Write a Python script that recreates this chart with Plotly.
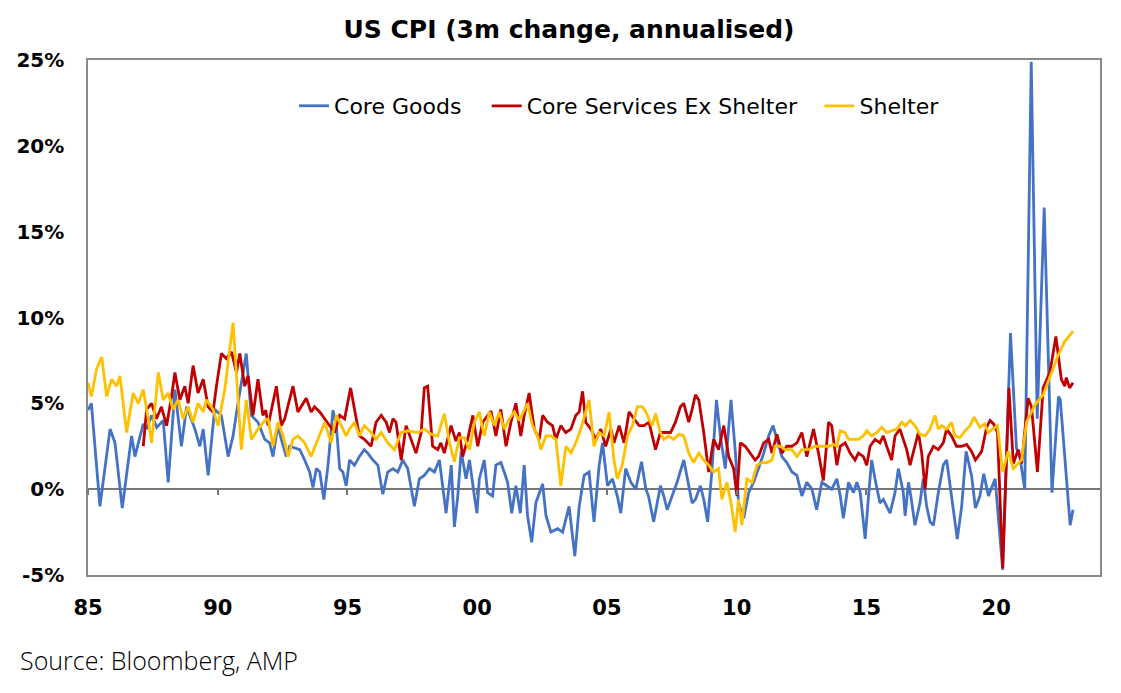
import plotly.graph_objects as go

# (decimal year, % 3m change annualised)
core_goods = [
    (1985.0, 4.6), (1985.13, 5.0), (1985.46, -1.0), (1985.85, 3.5), (1986.04, 2.7), (1986.32, -1.1),
    (1986.68, 3.1), (1986.81, 1.9), (1986.94, 2.7), (1987.13, 3.8), (1987.26, 3.5), (1987.45, 4.3),
    (1987.65, 3.6), (1987.9, 4.0), (1988.09, 0.4), (1988.35, 5.8), (1988.6, 2.5), (1988.8, 4.8),
    (1989.12, 3.5), (1989.31, 2.5), (1989.44, 3.5), (1989.63, 0.8), (1989.88, 4.65), (1990.14, 4.3),
    (1990.4, 1.9), (1990.59, 3.1), (1990.78, 5.0), (1991.1, 7.9), (1991.29, 4.3), (1991.55, 3.9),
    (1991.81, 2.9), (1992.0, 2.7), (1992.13, 1.9), (1992.32, 3.7), (1992.45, 2.9), (1992.64, 1.9),
    (1992.77, 2.5), (1992.96, 2.4), (1993.16, 2.3), (1993.35, 1.7), (1993.54, 1.0), (1993.67, 0.1),
    (1993.8, 1.2), (1993.93, 1.0), (1994.09, -0.6), (1994.25, 1.4), (1994.44, 4.6), (1994.57, 3.7),
    (1994.7, 1.2), (1994.82, 1.0), (1994.95, 0.2), (1995.08, 1.7), (1995.27, 1.4), (1995.46, 1.9),
    (1995.65, 2.3), (1995.78, 2.1), (1995.98, 1.7), (1996.17, 1.4), (1996.36, -0.3), (1996.55, 1.0),
    (1996.75, 1.2), (1996.94, 1.0), (1997.13, 1.7), (1997.32, 1.2), (1997.58, -1.0), (1997.77, 0.6),
    (1997.96, 0.8), (1998.16, 1.2), (1998.35, 1.0), (1998.54, 1.7), (1998.8, -1.4), (1999.0, 1.4),
    (1999.12, -2.2), (1999.25, -0.4), (1999.38, 2.2), (1999.57, 0.6), (1999.7, 1.7), (1999.89, -0.4),
    (1999.99, -1.4), (2000.08, 0.6), (2000.27, 1.7), (2000.4, -0.2), (2000.59, -0.4), (2000.72, 1.4),
    (2000.91, 1.55), (2001.04, 1.0), (2001.17, 0.4), (2001.33, -1.4), (2001.49, 0.2), (2001.66, -1.4),
    (2001.81, 1.4), (2001.94, -1.55), (2002.1, -3.1), (2002.26, -0.8), (2002.52, 0.3), (2002.65, -1.55),
    (2002.84, -2.5), (2003.1, -2.3), (2003.29, -2.5), (2003.54, -1.0), (2003.76, -3.9), (2003.93, -1.0),
    (2004.12, 0.8), (2004.31, 1.0), (2004.5, -1.9), (2004.7, 1.4), (2004.83, 2.7), (2005.02, 0.2),
    (2005.21, 0.6), (2005.4, -0.4), (2005.53, -1.4), (2005.72, 1.2), (2005.92, 0.4), (2006.11, 0.0),
    (2006.33, 1.6), (2006.5, 0.0), (2006.6, -0.4), (2006.8, -1.9), (2007.06, 0.2), (2007.19, -0.4),
    (2007.32, -1.2), (2007.51, -0.4), (2007.7, 0.4), (2007.96, 1.7), (2008.09, 0.6), (2008.28, -0.8),
    (2008.41, -0.6), (2008.6, 0.2), (2008.73, -0.6), (2008.88, -1.9), (2009.05, 1.2), (2009.22, 5.2),
    (2009.37, 3.1), (2009.56, 1.2), (2009.78, 5.2), (2009.95, 2.1), (2010.07, -0.8), (2010.27, -1.7),
    (2010.46, -0.2), (2010.65, 0.4), (2010.84, 1.2), (2011.04, 2.1), (2011.23, 3.1), (2011.4, 3.7),
    (2011.55, 2.9), (2011.74, 1.9), (2011.93, 1.55), (2012.13, 1.0), (2012.32, 0.8), (2012.51, -0.4),
    (2012.7, 0.4), (2012.9, 0.0), (2013.08, -1.2), (2013.28, 0.4), (2013.47, 0.2), (2013.66, 0.0),
    (2013.86, 0.6), (2013.99, -0.4), (2014.11, -1.7), (2014.31, 0.4), (2014.5, -0.2), (2014.63, 0.4),
    (2014.76, -0.2), (2014.95, -2.9), (2015.08, -0.4), (2015.2, 1.7), (2015.33, 0.6), (2015.52, -0.8),
    (2015.65, -0.6), (2015.78, -1.0), (2015.91, -1.4), (2016.1, -0.2), (2016.23, 1.2), (2016.42, -0.2),
    (2016.49, -1.55), (2016.62, 0.4), (2016.71, -0.4), (2016.87, -2.1), (2017.06, -0.8), (2017.19, 0.6),
    (2017.32, -1.0), (2017.45, -1.9), (2017.58, -2.1), (2017.77, -0.2), (2017.96, 1.4), (2018.09, 1.7),
    (2018.24, 0.0), (2018.37, -1.7), (2018.5, -2.9), (2018.67, -1.0), (2018.84, 2.2), (2019.05, 0.8),
    (2019.2, -1.1), (2019.37, -0.4), (2019.52, 0.9), (2019.7, -0.4), (2019.96, 0.6), (2020.25, -4.7),
    (2020.55, 9.1), (2020.78, 2.4), (2020.92, 1.8), (2021.1, 0.0), (2021.35, 24.9), (2021.58, 4.1),
    (2021.85, 16.4), (2022.15, -0.2), (2022.4, 5.4), (2022.47, 5.2), (2022.85, -2.1), (2022.96, -1.2),
]

core_services_ex_shelter = [
    (1987.13, 2.5), (1987.26, 4.65), (1987.45, 5.0), (1987.64, 4.1), (1987.83, 4.8), (1988.03, 3.7),
    (1988.22, 5.4), (1988.35, 6.8), (1988.54, 5.2), (1988.73, 6.0), (1988.86, 5.0), (1989.05, 7.2),
    (1989.24, 5.6), (1989.44, 6.4), (1989.63, 4.8), (1989.82, 4.5), (1989.95, 6.0), (1990.14, 7.9),
    (1990.33, 7.6), (1990.53, 8.0), (1990.72, 6.8), (1990.85, 7.9), (1991.04, 6.0), (1991.17, 6.6),
    (1991.36, 4.3), (1991.55, 6.4), (1991.74, 4.3), (1991.85, 4.6), (1991.94, 3.7), (1992.26, 6.0),
    (1992.45, 3.7), (1992.58, 4.1), (1992.9, 6.0), (1993.09, 4.5), (1993.41, 5.3), (1993.6, 4.5),
    (1993.73, 4.8), (1993.93, 4.5), (1994.12, 4.1), (1994.31, 3.7), (1994.5, 3.3), (1994.7, 4.3),
    (1994.89, 4.1), (1995.12, 5.9), (1995.27, 4.65), (1995.46, 3.1), (1995.65, 2.9), (1995.91, 2.5),
    (1996.1, 3.9), (1996.3, 4.3), (1996.49, 3.9), (1996.62, 3.3), (1996.75, 4.1), (1996.87, 3.9),
    (1997.07, 1.7), (1997.26, 3.7), (1997.45, 2.9), (1997.64, 2.1), (1997.84, 3.3), (1997.96, 5.9),
    (1998.09, 6.0), (1998.28, 2.5), (1998.48, 2.3), (1998.6, 2.7), (1998.73, 2.1), (1998.99, 3.7),
    (1999.18, 2.8), (1999.31, 3.3), (1999.44, 1.9), (1999.63, 2.9), (1999.83, 4.3), (2000.02, 2.5),
    (2000.21, 3.9), (2000.4, 4.3), (2000.53, 4.55), (2000.72, 3.1), (2000.91, 4.65), (2001.11, 2.5),
    (2001.3, 3.9), (2001.49, 5.0), (2001.68, 3.1), (2001.81, 4.3), (2002.0, 5.6), (2002.2, 3.5),
    (2002.39, 2.9), (2002.52, 4.3), (2002.71, 3.9), (2002.9, 3.7), (2003.03, 2.9), (2003.22, 3.7),
    (2003.41, 3.3), (2003.61, 3.5), (2003.8, 4.3), (2003.93, 4.5), (2004.06, 5.7), (2004.18, 3.9),
    (2004.38, 3.5), (2004.57, 2.9), (2004.76, 3.5), (2004.95, 2.5), (2005.15, 3.5), (2005.27, 2.7),
    (2005.47, 3.7), (2005.66, 2.7), (2005.85, 4.5), (2006.04, 4.1), (2006.24, 3.7), (2006.43, 3.7),
    (2006.62, 3.9), (2006.87, 2.3), (2007.06, 3.3), (2007.25, 3.3), (2007.45, 3.3), (2007.64, 3.9),
    (2007.83, 4.8), (2007.96, 5.0), (2008.15, 3.9), (2008.28, 4.65), (2008.41, 5.5), (2008.54, 5.2),
    (2008.73, 3.3), (2008.92, 1.0), (2009.11, 2.9), (2009.3, 2.3), (2009.5, 3.7), (2009.69, 1.9),
    (2009.88, 1.2), (2010.01, -0.4), (2010.14, 2.7), (2010.33, 2.5), (2010.52, 2.1), (2010.71, 1.7),
    (2010.84, 1.9), (2011.04, 2.7), (2011.23, 2.9), (2011.36, 2.1), (2011.55, 3.2), (2011.74, 2.1),
    (2011.93, 2.5), (2012.13, 2.5), (2012.32, 2.7), (2012.51, 3.3), (2012.7, 1.9), (2012.96, 3.5),
    (2013.15, 2.1), (2013.34, 0.5), (2013.54, 3.9), (2013.66, 3.7), (2013.86, 1.4), (2013.99, 2.5),
    (2014.18, 2.7), (2014.37, 2.1), (2014.56, 1.7), (2014.69, 2.1), (2014.88, 1.9), (2015.01, 1.4),
    (2015.14, 2.5), (2015.33, 2.9), (2015.52, 2.7), (2015.65, 3.1), (2015.78, 2.5), (2015.97, 1.7),
    (2016.1, 3.1), (2016.29, 3.5), (2016.42, 2.9), (2016.55, 2.3), (2016.68, 1.4), (2016.87, 2.5),
    (2017.0, 3.3), (2017.13, 2.1), (2017.26, 0.0), (2017.38, 1.9), (2017.58, 2.5), (2017.77, 2.3),
    (2017.96, 2.7), (2018.09, 3.5), (2018.28, 3.1), (2018.47, 2.5), (2018.67, 2.5), (2018.86, 2.6),
    (2019.05, 2.2), (2019.2, 1.7), (2019.44, 2.2), (2019.63, 3.6), (2019.76, 4.0), (2019.9, 3.8),
    (2020.05, 3.3), (2020.25, -4.6), (2020.49, 5.9), (2020.66, 1.5), (2020.85, 2.3), (2020.98, 1.5),
    (2021.23, 5.3), (2021.36, 4.8), (2021.59, 1.0), (2021.81, 5.9), (2022.07, 6.8), (2022.3, 8.9),
    (2022.51, 6.4), (2022.64, 6.0), (2022.7, 6.5), (2022.83, 5.9), (2022.96, 6.2),
]

shelter = [
    (1985.0, 6.2), (1985.13, 5.4), (1985.33, 7.0), (1985.53, 7.7), (1985.72, 5.4), (1985.91, 6.4),
    (1986.1, 6.0), (1986.23, 6.6), (1986.49, 3.3), (1986.74, 5.6), (1986.94, 5.0), (1987.13, 5.8),
    (1987.32, 4.1), (1987.45, 2.7), (1987.71, 6.8), (1987.9, 5.2), (1988.09, 5.6), (1988.28, 4.65),
    (1988.47, 5.2), (1988.67, 4.1), (1988.86, 4.8), (1989.05, 3.9), (1989.24, 5.0), (1989.44, 4.5),
    (1989.56, 5.2), (1989.82, 4.65), (1990.01, 3.7), (1990.27, 5.8), (1990.59, 9.7), (1990.78, 5.4),
    (1990.91, 2.3), (1991.1, 5.2), (1991.3, 2.9), (1991.55, 3.5), (1991.81, 4.0), (1991.94, 4.1),
    (1992.13, 2.5), (1992.32, 3.9), (1992.52, 3.1), (1992.71, 1.9), (1992.9, 2.9), (1993.09, 3.1),
    (1993.35, 2.7), (1993.6, 1.9), (1993.86, 2.9), (1994.12, 3.9), (1994.37, 2.7), (1994.57, 4.3),
    (1994.76, 3.7), (1994.95, 3.1), (1995.08, 3.5), (1995.27, 3.9), (1995.46, 3.1), (1995.65, 3.7),
    (1995.91, 3.3), (1996.1, 2.9), (1996.3, 3.3), (1996.55, 2.7), (1996.81, 2.3), (1997.07, 3.3),
    (1997.32, 3.4), (1997.71, 3.3), (1997.96, 3.5), (1998.22, 3.2), (1998.48, 3.1), (1998.73, 4.4),
    (1998.93, 2.7), (1999.12, 1.6), (1999.31, 3.0), (1999.5, 3.0), (1999.7, 2.3), (1999.89, 3.9),
    (2000.08, 4.5), (2000.27, 3.1), (2000.47, 4.5), (2000.66, 3.7), (2000.85, 4.5), (2001.04, 3.5),
    (2001.24, 4.1), (2001.43, 4.5), (2001.62, 4.0), (2001.81, 4.65), (2001.94, 5.0), (2002.13, 3.7),
    (2002.33, 3.1), (2002.45, 2.3), (2002.65, 3.1), (2002.84, 3.1), (2003.03, 2.9), (2003.22, 0.2),
    (2003.42, 2.5), (2003.61, 2.1), (2003.8, 2.7), (2003.99, 3.5), (2004.18, 4.5), (2004.31, 5.2),
    (2004.5, 2.5), (2004.7, 3.3), (2004.89, 3.1), (2005.08, 4.5), (2005.27, 1.7), (2005.4, 0.6),
    (2005.59, 1.4), (2005.79, 3.1), (2005.98, 3.7), (2006.17, 4.8), (2006.36, 4.8), (2006.5, 4.5),
    (2006.61, 4.1), (2006.74, 3.7), (2006.87, 4.4), (2007.06, 3.3), (2007.19, 2.9), (2007.38, 3.1),
    (2007.57, 2.9), (2007.77, 3.2), (2007.96, 3.1), (2008.15, 2.1), (2008.34, 1.55), (2008.54, 2.1),
    (2008.73, 1.7), (2008.92, 1.4), (2009.11, 1.0), (2009.3, 1.2), (2009.43, -0.6), (2009.62, 0.4),
    (2009.78, -0.8), (2009.94, -2.5), (2010.07, -0.6), (2010.2, -2.1), (2010.39, 0.6), (2010.59, 0.4),
    (2010.78, 1.4), (2010.97, 1.55), (2011.16, 1.55), (2011.36, 1.7), (2011.48, 2.5), (2011.68, 2.5),
    (2011.87, 2.3), (2012.13, 2.3), (2012.32, 1.9), (2012.51, 2.3), (2012.77, 2.3), (2013.02, 2.5),
    (2013.28, 2.5), (2013.54, 2.5), (2013.73, 2.6), (2013.86, 2.5), (2013.99, 3.4), (2014.18, 3.3),
    (2014.31, 2.9), (2014.5, 2.9), (2014.69, 2.9), (2014.88, 3.1), (2015.01, 3.4), (2015.2, 3.1),
    (2015.4, 3.3), (2015.59, 3.6), (2015.78, 3.3), (2015.97, 3.4), (2016.17, 3.5), (2016.36, 3.9),
    (2016.49, 3.7), (2016.68, 4.0), (2016.87, 3.7), (2017.06, 3.2), (2017.26, 3.1), (2017.45, 3.5),
    (2017.64, 4.3), (2017.77, 3.5), (2017.9, 3.7), (2018.09, 3.5), (2018.28, 3.9), (2018.41, 3.1),
    (2018.6, 3.0), (2018.8, 3.4), (2018.99, 3.7), (2019.15, 4.2), (2019.37, 3.6), (2019.55, 3.8),
    (2019.7, 3.3), (2019.85, 3.5), (2020.05, 3.7), (2020.25, 1.0), (2020.46, 2.2), (2020.66, 1.2),
    (2020.98, 1.7), (2021.17, 3.9), (2021.49, 4.9), (2021.81, 5.5), (2022.13, 6.8), (2022.39, 7.8),
    (2022.64, 8.6), (2022.96, 9.2),
]

tick_years = [1985, 1990, 1995, 2000, 2005, 2010, 2015, 2020]
tick_labels = ['85', '90', '95', '00', '05', '10', '15', '20']
y_ticks = [-5, 0, 5, 10, 15, 20, 25]
y_labels = ['-5%', '0%', '5%', '10%', '15%', '20%', '25%']

FONT = 'DejaVu Sans'

# the page puts the figure 8px in from the top-left corner
W, H = 1105, 677

fig = go.Figure()

series = [
    ('Core Goods', core_goods, '#4472C4', 'legend'),
    ('Core Services Ex Shelter', core_services_ex_shelter, '#C00000', 'legend2'),
    ('Shelter', shelter, '#FFC000', 'legend3'),
]
for name, pts, colour, leg in series:
    fig.add_trace(go.Scatter(
        x=[p[0] for p in pts], y=[p[1] for p in pts], name=name, mode='lines',
        line=dict(color=colour, width=2.8), legend=leg, showlegend=True))

# tick marks sitting on the zero line
fig.add_trace(go.Scatter(x=[], y=[], xaxis='x2', showlegend=False, hoverinfo='skip'))

legend_font = dict(family=FONT, size=22, color='black')
leg_common = dict(orientation='h', yanchor='middle', y=0.9107, xanchor='left',
                  bgcolor='rgba(0,0,0,0)', borderwidth=0, font=legend_font)

fig.update_layout(
    width=W, height=H,
    margin=dict(l=80, r=13, t=52, b=110, autoexpand=False),
    paper_bgcolor='white', plot_bgcolor='white',
    showlegend=True,
    title=dict(text='<b>US CPI (3m change, annualised)</b>', x=(569 - 8) / W, xref='container',
               xanchor='center', y=1 - 21 / H, yref='container', yanchor='middle',
               font=dict(family=FONT, size=25, color='black')),
    legend=dict(x=0.2036, **leg_common),
    legend2=dict(x=0.394, **leg_common),
    legend3=dict(x=0.7228, **leg_common),
    xaxis=dict(range=[1985, 2024], tickvals=tick_years, ticktext=tick_labels, automargin=False,
               showline=True, mirror=True, linecolor='#8a8a8a', linewidth=1.5,
               showgrid=False, zeroline=False, ticks='', ticklabelstandoff=13,
               tickfont=dict(family=FONT, size=21, color='black', weight='bold')),
    xaxis2=dict(overlaying='x', matches='x', anchor='free', position=1 / 6, side='bottom',
                automargin=False, tickvals=tick_years, ticks='outside', ticklen=5, tickwidth=1.5,
                tickcolor='#777777', showticklabels=False, showline=False, showgrid=False,
                zeroline=False),
    yaxis=dict(range=[-5, 25], tickvals=y_ticks, ticktext=y_labels, automargin=False,
               showline=True, mirror=True, linecolor='#8a8a8a', linewidth=1.5,
               showgrid=False, zeroline=True, zerolinecolor='#777777', zerolinewidth=1.5,
               ticks='', ticklabelstandoff=18,
               tickfont=dict(family=FONT, size=20, color='black', weight='bold')),
    annotations=[dict(text='Source: Bloomberg, AMP', xref='paper', yref='paper',
                      x=(10 - 80) / 1012, y=(575 - 660) / 515, xanchor='left', yanchor='middle',
                      showarrow=False, font=dict(family='Open Sans', size=25, color='black', weight=300))],
)

fig.write_html('out.html')
